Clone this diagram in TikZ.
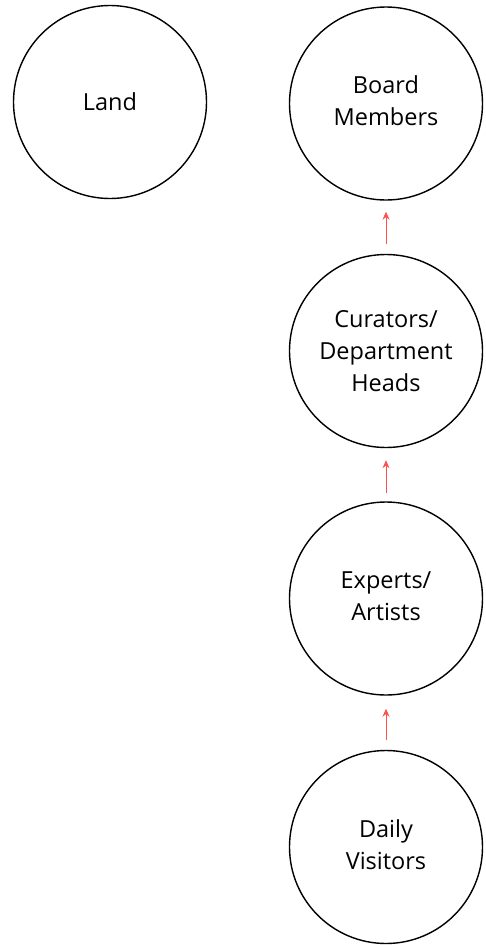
\documentclass[tikz,border=0pt]{standalone}
\usepackage{fontspec}
\setmainfont{Open Sans}
\usetikzlibrary{arrows.meta}
\begin{document}
\begin{tikzpicture}[x=1pt,y=-1pt,
  bubble/.style={draw=black, line width=1.4pt, circle, minimum size=193pt, inner sep=0pt,
    align=center, font=\fontsize{23.5}{32}\selectfont},
  bubbletext/.style={align=center, inner sep=0pt, font=\fontsize{23.5}{32}\selectfont},
  uparrow/.style={draw={rgb,255:red,255;green,80;blue,80}, line width=0.9pt,
    -{Stealth[length=8pt,width=7pt]}}]
\useasboundingbox (0,0) rectangle (486,945);
\node[bubble] (land) at (110,102) {Land};
\node[bubble, label={[bubbletext, name=boardtext, yshift=3pt]center:{Board\\Members}}] (board) at (386,103.5) {};
\node[bubble] (cur) at (386,351) {Curators/\\Department\\Heads};
\node[bubble, label={[bubbletext, name=exptext, yshift=2pt]center:{Experts/\\Artists}}] (exp) at (386,598.5) {};
\node[bubble, label={[bubbletext, name=vistext, yshift=2pt]center:{Daily\\Visitors}}] (vis) at (386,847) {};
\draw[uparrow, shorten <=10pt, shorten >=11pt] (cur.north) -- (board.south);
\draw[uparrow, shorten <=8pt, shorten >=12pt] (exp.north) -- (cur.south);
\draw[uparrow, shorten <=10pt, shorten >=13pt] (vis.north) -- (exp.south);
\end{tikzpicture}
\end{document}
